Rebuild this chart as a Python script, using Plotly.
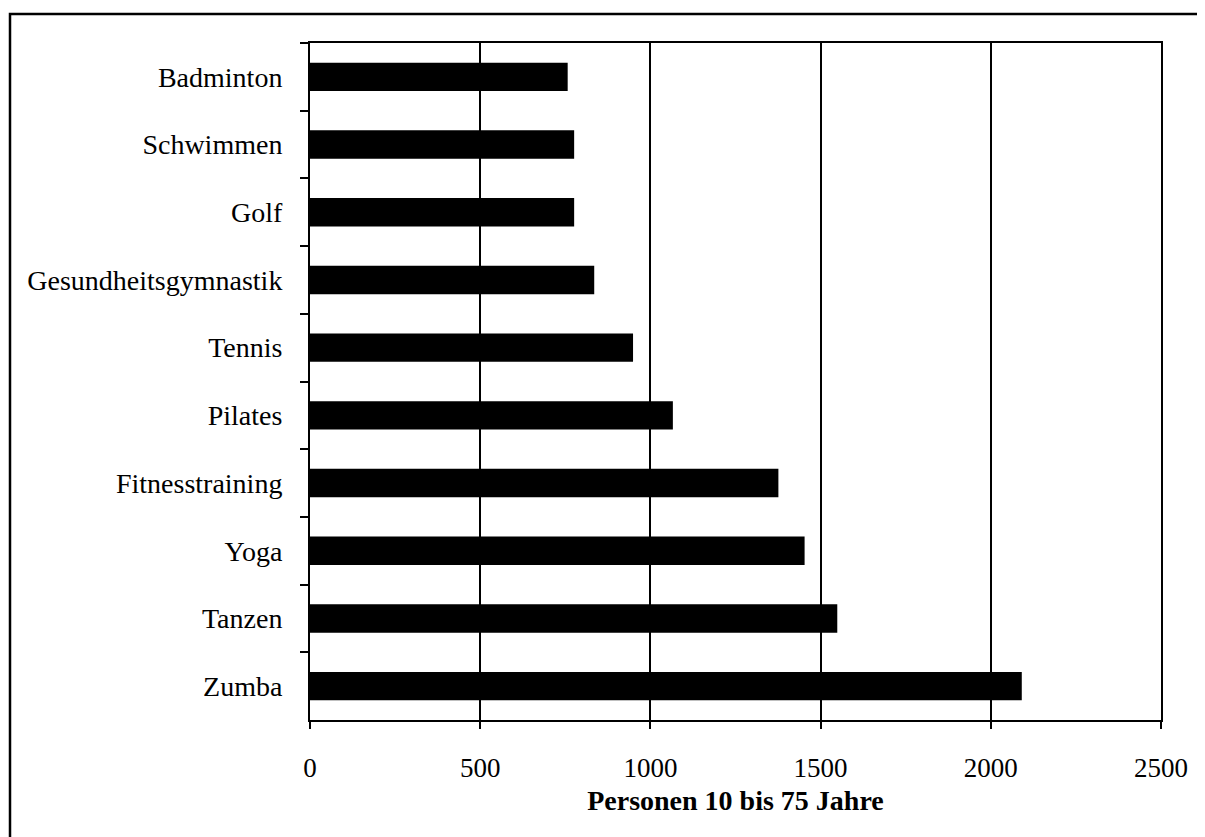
import plotly.graph_objects as go

categories = ["Badminton", "Schwimmen", "Golf", "Gesundheitsgymnastik", "Tennis",
              "Pilates", "Fitnesstraining", "Yoga", "Tanzen", "Zumba"]
values = [757, 776, 776, 835, 949, 1066, 1376, 1453, 1549, 2091]
x_ticks = [0, 500, 1000, 1500, 2000, 2500]
x_title = "Personen 10 bis 75 Jahre"

FONT = "Liberation Serif"

fig = go.Figure(go.Bar(
    x=values, y=categories, orientation="h",
    marker=dict(color="black", line=dict(width=0)),
))

# page body has an 8px margin, so the figure is offset by 8px
W, H = 1197, 829
L, R, T, B = 302, 44, 35, 117
pw, ph = W - L - R, H - T - B

fig.update_layout(
    width=W, height=H,
    margin=dict(l=L, r=R, t=T, b=B, pad=0),
    paper_bgcolor="white", plot_bgcolor="white",
    bargap=0.58,
    showlegend=False,
    font=dict(family=FONT, size=27, color="black"),
    xaxis=dict(
        range=[0, 2500], tickvals=x_ticks, ticktext=[str(v) for v in x_ticks],
        showgrid=True, gridcolor="black", gridwidth=1.5,
        showline=True, linecolor="black", linewidth=2, mirror=True,
        ticks="outside", ticklen=7, tickwidth=1.5, tickcolor="black",
        ticklabelstandoff=16,
        zeroline=False,
        title=dict(text="<b>" + x_title + "</b>", font=dict(family=FONT, size=28), standoff=8),
        tickfont=dict(family=FONT, size=27),
    ),
    yaxis=dict(
        categoryorder="array", categoryarray=categories, autorange="reversed",
        showgrid=False,
        showline=True, linecolor="black", linewidth=2, mirror=True,
        ticks="outside", ticklen=8, tickwidth=1.5, tickcolor="black",
        tickson="boundaries",
        ticklabelstandoff=20,
        tickfont=dict(family=FONT, size=28),
    ),
    shapes=[dict(
        type="rect", xref="paper", yref="paper",
        x0=(2 - L) / pw, x1=(W + 20 - L) / pw,
        y0=(H - B - (H + 20)) / ph, y1=(H - B - 6) / ph,
        line=dict(color="black", width=2.5), fillcolor="rgba(0,0,0,0)",
        layer="below",
    )],
)

fig.write_html("out.html")
